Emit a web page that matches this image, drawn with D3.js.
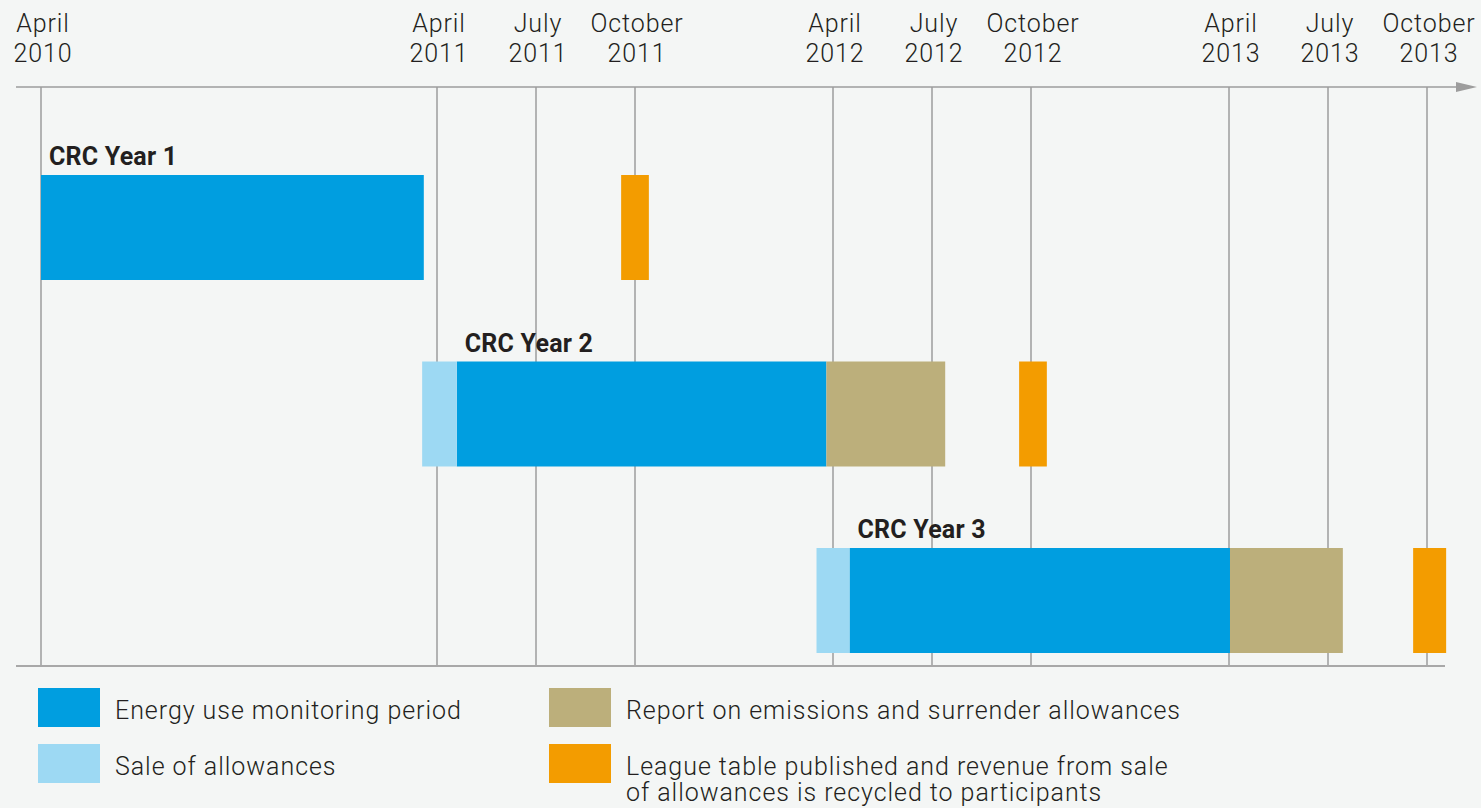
<!DOCTYPE html>
<html lang="en">
<head>
<meta charset="utf-8">
<title>CRC timeline</title>
<script src="https://cdn.jsdelivr.net/npm/d3@7"></script>
<style>
  body { margin: 0; background: #f4f6f5; }
  text { font-family: Roboto, "Noto Sans", sans-serif; fill: #231f20; }
</style>
</head>
<body>
<script>
// months counted from April 2010
var tickMonths = [0, 12, 15, 18, 24, 27, 30, 36, 39, 42];
var tickMonthNames = ["April", "April", "July", "October", "April", "July", "October", "April", "July", "October"];
var tickYears = ["2010", "2011", "2011", "2011", "2012", "2012", "2012", "2013", "2013", "2013"];

var years = ["CRC Year 1", "CRC Year 2", "CRC Year 3"];
// [start, end] in months for each year, null if absent
var saleOfAllowances = [null, [11.55, 12.6], [23.5, 24.5]];
var monitoring = [[0, 11.6], [12.6, 23.8], [24.5, 36.03]];
var reporting = [null, [23.8, 27.4], [36.03, 39.45]];
var leagueTable = [[17.58, 18.42], [29.64, 30.48], [41.58, 42.58]];

var categories = ["Energy use monitoring period", "Sale of allowances",
                  "Report on emissions and surrender allowances",
                  "League table published and revenue from sale|of allowances is recycled to participants"];
var colors = ["#009ee0", "#9dd9f3", "#bcaf7b", "#f39c00"];

var w = 1481, h = 808;
var svg = d3.select("body").append("svg").attr("width", w).attr("height", h);

var x = d3.scaleLinear().domain([0, 36]).range([41, 1229]);
var y = d3.scaleBand().domain(years).range([175, 653]).paddingInner(0.437);

var axisY = 87, bottomY = 666;

// gridlines
svg.selectAll("line.grid").data(tickMonths).enter().append("line")
   .attr("class", "grid")
   .attr("x1", function(d) { return x(d); })
   .attr("x2", function(d) { return x(d); })
   .attr("y1", axisY).attr("y2", bottomY)
   .attr("stroke", "#9d9d9d").attr("stroke-width", 1.5);

// top axis with arrow
svg.append("line").attr("x1", 16).attr("x2", 1458).attr("y1", axisY).attr("y2", axisY)
   .attr("stroke", "#9d9d9d").attr("stroke-width", 1.5);
svg.append("path").attr("d", "M1456," + (axisY - 5) + "L1477," + axisY + "L1456," + (axisY + 5) + "Z")
   .attr("fill", "#9d9d9d");
// bottom line
svg.append("line").attr("x1", 16).attr("x2", 1445).attr("y1", bottomY).attr("y2", bottomY)
   .attr("stroke", "#a8a8a8").attr("stroke-width", 2);

// tick labels
var tl = svg.selectAll("text.tick").data(tickMonths).enter().append("text")
   .attr("class", "tick")
   .attr("text-anchor", "middle")
   .attr("font-size", "25px")
   .attr("font-weight", 300)
   .attr("letter-spacing", "0.9px");
tl.append("tspan").attr("x", function(d) { return x(d) + 2; }).attr("y", 32)
  .text(function(d, i) { return tickMonthNames[i]; });
tl.append("tspan").attr("x", function(d) { return x(d) + 2; }).attr("y", 62)
  .text(function(d, i) { return tickYears[i]; });

// bars
var series = [monitoring, saleOfAllowances, reporting, leagueTable];
series.forEach(function(s, si) {
  var rows = s.map(function(d, i) { return { year: years[i], span: d }; })
              .filter(function(d) { return d.span; });
  svg.selectAll("rect.s" + si).data(rows).enter().append("rect")
     .attr("class", "s" + si)
     .attr("x", function(d) { return x(d.span[0]); })
     .attr("width", function(d) { return x(d.span[1]) - x(d.span[0]); })
     .attr("y", function(d) { return y(d.year); })
     .attr("height", y.bandwidth())
     .attr("fill", colors[si]);
});

// year labels
svg.selectAll("text.year").data(years).enter().append("text")
   .attr("class", "year")
   .attr("x", function(d, i) { return x(monitoring[i][0]) + 8; })
   .attr("y", function(d) { return y(d) - 10; })
   .attr("font-size", "25px").attr("font-weight", "bold")
   .attr("letter-spacing", "0.2px")
   .text(function(d) { return d; });

// legend
var legend = svg.selectAll("g.legend").data(categories).enter().append("g")
   .attr("class", "legend")
   .attr("transform", function(d, i) {
     return "translate(" + (i < 2 ? 38 : 549) + "," + (i % 2 === 0 ? 688 : 744) + ")";
   });
legend.append("rect").attr("width", 62).attr("height", 39)
   .attr("fill", function(d, i) { return colors[i]; });
legend.append("text").attr("font-size", "25px").attr("font-weight", 300)
   .attr("letter-spacing", "0.95px")
   .selectAll("tspan").data(function(d) { return d.split("|"); }).enter().append("tspan")
   .attr("x", 77).attr("y", function(d, j) { return 31 + j * 26; })
   .text(function(d) { return d; });
</script>
</body>
</html>
